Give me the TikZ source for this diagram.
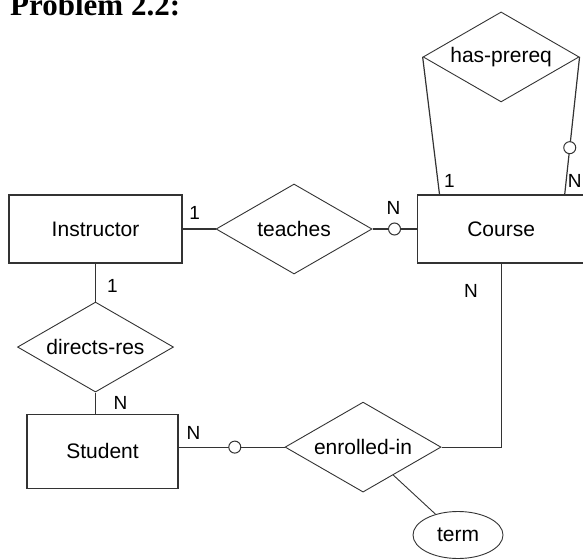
\documentclass[tikz,border=0pt]{standalone}
\usepackage{fontspec}
\setmainfont{Liberation Sans}
\newfontfamily\titlefont{Liberation Serif}
\usetikzlibrary{positioning,shapes.geometric,calc}
\definecolor{erline}{HTML}{333333}
\tikzset{
  entity/.style={draw=erline, line width=1.2pt, minimum height=68pt, inner sep=0pt, font=\fontsize{21}{25}\selectfont},
  rel/.style={diamond, draw=erline, line width=0.9pt, aspect=1.7, minimum width=156pt, minimum height=90pt, inner sep=0pt, font=\fontsize{21}{25}\selectfont},
  attr/.style={ellipse, draw=erline, line width=0.9pt, minimum width=90pt, minimum height=47pt, inner sep=0pt, font=\fontsize{21}{25}\selectfont},
  card/.style={inner sep=0pt, font=\fontsize{19}{23}\selectfont},
  ring/.style={circle, draw=erline, fill=white, line width=1pt, minimum size=12pt, inner sep=0pt},
  link/.style={draw=erline, line width=1.2pt}
}

\begin{document}
\begin{tikzpicture}[x=1pt, y=1pt]
  \useasboundingbox (0,0) rectangle (583,-559);
  \node[anchor=base west, inner sep=0pt, font=\titlefont\bfseries\fontsize{31}{36}\selectfont] (title) at (10,-16) {Problem 2.2:};

  % entities and relationships
  \node[entity, minimum width=173pt] (instr) at (95.5,-229) {Instructor};
  \node[rel, right=33pt of instr] (teaches) {teaches};
  \node[entity, minimum width=168pt, right=44pt of teaches] (course) {Course};
  \node[rel, above=92pt of course] (prereq) {has-prereq};
  \node[rel, below=38pt of instr] (directs) {directs-res};
  \node[entity, minimum width=151pt, minimum height=74pt, below=21pt of directs, xshift=7pt] (student) {Student};
  \node[rel, right=106pt of student, yshift=4pt] (enrolled) {enrolled-in};
  \node[attr] (term) at (458,-535) {term};

  \coordinate (pl) at ($(course.north west)+(23,0)$);
  \coordinate (pr) at ($(course.north east)+(-21,0)$);

  % connectors
  \draw[link] (instr) -- (teaches);
  \draw[link] (teaches) -- node[ring, pos=0.5] (r1) {} (course);
  \draw[link] (instr.south) -- (directs.north);
  \draw[link] (directs.south) -- (directs.south |- student.north);
  \draw[link] (enrolled.west -| student.east) -- node[ring, pos=0.53] (r2) {} (enrolled.west);
  \draw[link] (course.south) |- (enrolled.east);
  \draw[link, line width=0.9pt] (enrolled) -- (term);
  \draw[link] (prereq.west) -- (pl);
  \draw[link] (prereq.east) -- node[ring, pos=0.66] (r3) {} (pr);

  % cardinalities
  \node[card] (c1) at ($(instr.east)+(12,16)$) {1};
  \node[card] (c2) at ($(course.west)+(-23,21)$) {N};
  \node[card] (c3) at ($(instr.south)+(17,-22)$) {1};
  \node[card] (c4) at ($(directs.south)+(25,-10)$) {N};
  \node[card] (c5) at ($(student.east)+(15,18)$) {N};
  \node[card] (c6) at ($(course.south)+(-30,-27)$) {N};
  \node[card] (c7) at ($(pl)+(10,13)$) {1};
  \node[card] (c8) at ($(pr)+(10,13)$) {N};
\end{tikzpicture}
\end{document}
